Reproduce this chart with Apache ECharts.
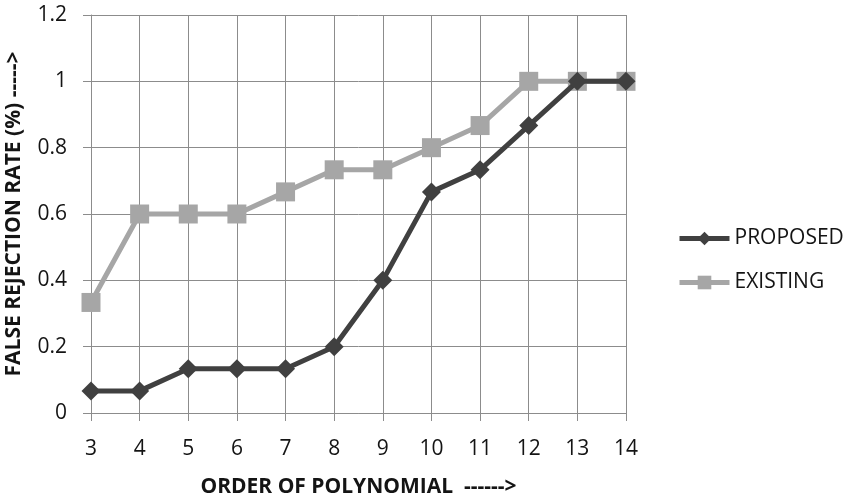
<!DOCTYPE html>
<html>
<head>
<meta charset="utf-8">
<script src="https://cdn.jsdelivr.net/npm/echarts@6/dist/echarts.min.js"></script>
<style>
  html, body { margin: 0; padding: 0; background: #fff; }
  #chart { width: 846px; height: 495px; }
</style>
</head>
<body>
<div id="chart"></div>
<script>
// Polynomial orders on the x axis
const orders = ['3', '4', '5', '6', '7', '8', '9', '10', '11', '12', '13', '14'];
// False rejection rate for each method
const proposed = [0.0667, 0.0667, 0.1333, 0.1333, 0.1333, 0.2, 0.4, 0.6667, 0.7333, 0.8667, 1, 1];
const existing = [0.3333, 0.6, 0.6, 0.6, 0.6667, 0.7333, 0.7333, 0.8, 0.8667, 1, 1, 1];

const FONT = 'Open Sans';
const gridColor = '#8c8c8c';
const textColor = '#141414';

const chart = echarts.init(document.getElementById('chart'), null, { renderer: 'canvas' });
chart.setOption({
  animation: false,
  backgroundColor: '#fff',
  textStyle: { fontFamily: FONT },
  grid: { left: 91, right: 220, top: 15, bottom: 82, outerBoundsMode: 'none', containLabel: false },
  legend: {
    orient: 'vertical',
    left: 672,
    top: 223,
    itemWidth: 50,
    itemHeight: 17,
    itemGap: 23,
    lineStyle: { width: 5 },
    textStyle: { fontFamily: FONT, fontSize: 21, color: textColor },
    data: [
      { name: 'PROPOSED' },
      { name: 'EXISTING' }
    ]
  },
  xAxis: {
    type: 'category',
    data: orders,
    boundaryGap: false,
    name: 'ORDER OF POLYNOMIAL  ------>',
    nameLocation: 'middle',
    nameGap: 64,
    nameTextStyle: { fontFamily: FONT, fontSize: 21, fontWeight: 'bold', color: textColor },
    axisLine: { lineStyle: { color: gridColor, width: 1 } },
    axisTick: { show: true, inside: false, length: 8, interval: 0, lineStyle: { color: gridColor } },
    axisLabel: { margin: 26, fontSize: 21, color: textColor, fontFamily: FONT, interval: 0 },
    splitLine: { show: true, interval: 0, lineStyle: { color: gridColor, width: 1 } }
  },
  yAxis: {
    type: 'value',
    min: 0,
    max: 1.2,
    interval: 0.2,
    name: 'FALSE REJECTION RATE (%) ----->',
    nameLocation: 'middle',
    nameGap: 66,
    nameTextStyle: { fontFamily: FONT, fontSize: 21, fontWeight: 'bold', color: textColor },
    axisLine: { show: true, lineStyle: { color: gridColor, width: 1 } },
    axisTick: { show: true, length: 8, lineStyle: { color: gridColor } },
    axisLabel: {
      margin: 24, fontSize: 21, color: textColor, fontFamily: FONT,
      formatter: v => String(Math.round(v * 10) / 10)
    },
    splitLine: { show: true, lineStyle: { color: gridColor, width: 1 } }
  },
  series: [
    {
      name: 'PROPOSED',
      type: 'line',
      data: proposed,
      symbol: 'diamond',
      symbolSize: 19,
      z: 3,
      lineStyle: { color: '#404040', width: 5 },
      itemStyle: { color: '#404040' }
    },
    {
      name: 'EXISTING',
      type: 'line',
      data: existing,
      symbol: 'rect',
      symbolSize: 19,
      z: 2,
      lineStyle: { color: '#a6a6a6', width: 5 },
      itemStyle: { color: '#a6a6a6' }
    }
  ]
});
</script>
</body>
</html>
